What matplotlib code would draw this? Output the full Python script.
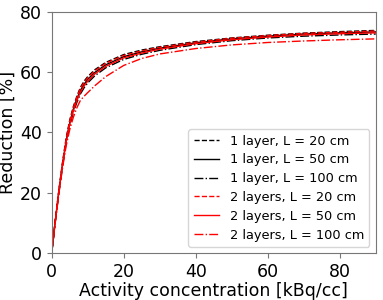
import matplotlib
matplotlib.use("Agg")
import matplotlib.pyplot as plt

x = [0, 1, 2, 3, 4, 5, 6, 7, 8, 9, 10, 12, 15, 20, 25, 30, 40, 50, 60, 70, 80, 90]

one_l20 = [0, 11.0, 21.0, 30.0, 38.0, 44.0, 48.5, 52.0, 55.0, 57.0, 58.5, 60.8, 63.2, 65.8, 67.3, 68.4, 70.1, 71.3, 72.2, 72.9, 73.4, 73.8]
one_l50 = [0, 10.8, 20.6, 29.4, 37.2, 43.2, 47.7, 51.2, 54.0, 56.0, 57.6, 59.9, 62.4, 65.1, 66.7, 67.9, 69.7, 71.0, 71.9, 72.6, 73.0, 73.3]
one_l100 = [0, 10.5, 20.2, 28.8, 36.4, 42.2, 46.6, 50.0, 52.8, 54.8, 56.4, 58.8, 61.4, 64.2, 65.9, 67.2, 69.1, 70.4, 71.3, 71.9, 72.3, 72.6]
two_l20 = [0, 10.9, 20.8, 29.8, 37.7, 43.7, 48.2, 51.7, 54.6, 56.6, 58.1, 60.4, 62.9, 65.5, 67.0, 68.2, 69.9, 71.2, 72.1, 72.8, 73.2, 73.6]
two_l50 = [0, 10.7, 20.4, 29.1, 36.8, 42.7, 47.1, 50.6, 53.4, 55.4, 57.0, 59.4, 61.9, 64.7, 66.3, 67.6, 69.4, 70.7, 71.6, 72.3, 72.7, 73.0]
two_l100 = [0, 10.3, 19.8, 28.2, 35.5, 40.9, 45.0, 48.2, 50.7, 52.0, 53.2, 55.5, 58.5, 62.2, 64.5, 66.0, 67.8, 69.0, 69.8, 70.3, 70.7, 71.0]

labels = ["1 layer, L = 20 cm", "1 layer, L = 50 cm", "1 layer, L = 100 cm",
          "2 layers, L = 20 cm", "2 layers, L = 50 cm", "2 layers, L = 100 cm"]

fig = plt.figure(figsize=(3.83, 3.0), dpi=100)
ax = fig.add_axes([0.135, 0.156, 0.846, 0.805])

series = [one_l20, one_l50, one_l100, two_l20, two_l50, two_l100]
colors = ["black"] * 3 + ["red"] * 3
styles = ["--", "-", "-."] * 3
for y, c, ls, lab in zip(series, colors, styles, labels):
    ax.plot(x, y, color=c, linestyle=ls, linewidth=1.0, label=lab)

ax.set_xlim(0, 90)
ax.set_ylim(0, 80)
ax.set_xticks([0, 20, 40, 60, 80])
ax.set_yticks([0, 20, 40, 60, 80])
for s in ax.spines.values():
    s.set_color("#777777")
    s.set_linewidth(0.8)
ax.tick_params(labelsize=12.5, color="#777777")
ax.set_xlabel("Activity concentration [kBq/cc]", fontsize=12.5, labelpad=1)
ax.set_ylabel("Reduction [%]", fontsize=12.5, labelpad=2)
ax.legend(loc="lower right", fontsize=9.3, labelspacing=0.45)

fig.savefig("out.png", dpi=100)
